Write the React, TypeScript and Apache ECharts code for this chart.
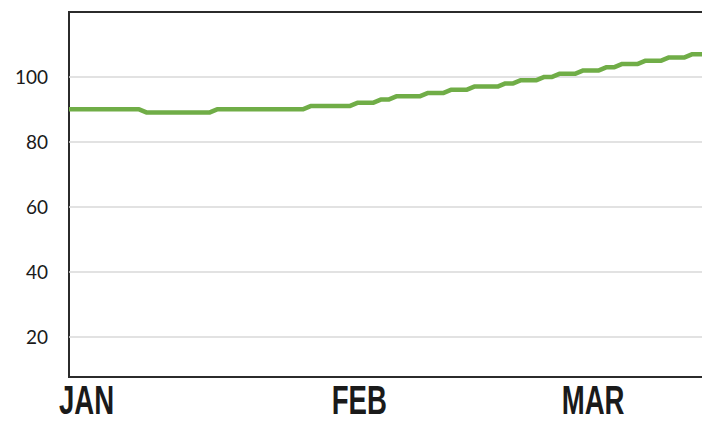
import React, { useEffect, useRef } from "react";
import * as echarts from "echarts";

// Daily index values (one point per day)
const values: number[] = [
  90, 90, 90, 90, 90, 90, 90, 90, 90, 90,
  89, 89, 89, 89, 89, 89, 89, 89, 89,
  90, 90, 90, 90, 90, 90, 90, 90, 90, 90, 90, 90,
  91, 91, 91, 91, 91, 91,
  92, 92, 92,
  93, 93,
  94, 94, 94, 94,
  95, 95, 95,
  96, 96, 96,
  97, 97, 97, 97,
  98, 98,
  99, 99, 99,
  100, 100,
  101, 101, 101,
  102, 102, 102,
  103, 103,
  104, 104, 104,
  105, 105, 105,
  106, 106, 106,
  107, 107, 107,
];

const days: string[] = values.map((_, i) => String(i + 1));

// Month captions and the day index each one is centred on
const monthLabels: string[] = ["JAN", "FEB", "MAR"];
const monthLabelAt: number[] = [2, 37, 67];

const yTicks: number[] = [20, 40, 60, 80, 100];

export default function App() {
  const ref = useRef<HTMLDivElement>(null);

  useEffect(() => {
    if (!ref.current) return;
    const chart = echarts.init(ref.current, null, { renderer: "svg" });
    chart.setOption({
      animation: false,
      grid: {
        left: 69,
        right: 2,
        top: 12,
        bottom: 47,
        show: true,
        borderColor: "#2b2b2b",
        borderWidth: 2,
        backgroundColor: "transparent",
      },
      xAxis: {
        type: "category",
        data: days,
        boundaryGap: false,
        axisLine: { show: false },
        axisTick: { show: false },
        axisLabel: { show: false },
        splitLine: { show: false },
      },
      yAxis: {
        type: "value",
        min: 7.5,
        max: 120,
        axisLine: { show: false },
        axisTick: { show: false, customValues: yTicks },
        axisLabel: {
          customValues: yTicks,
          margin: 21,
          fontFamily: "Lato",
          fontSize: 19,
          color: "#1a1a1a",
        },
        splitLine: {
          lineStyle: { color: "#d9d9d9", width: 1.5 },
        },
      },
      series: [
        {
          type: "line",
          data: values,
          showSymbol: false,
          symbol: "none",
          lineStyle: { color: "#70AD47", width: 4.5 },
        },
      ],
    });

    const labelY = 400;
    chart.setOption({
      graphic: monthLabels.map((text, i) => {
        const x = chart.convertToPixel({ xAxisIndex: 0 }, monthLabelAt[i]) as number;
        return {
          type: "text",
          x: x + 2,
          y: labelY,
          scaleX: 0.69,
          style: {
            text,
            font: "900 40px 'Liberation Sans', Roboto, sans-serif",
            lineHeight: 32,
            fill: "#1a1a1a",
            textAlign: "center",
            textVerticalAlign: "middle",
          },
        };
      }),
    });

    return () => chart.dispose();
  }, []);

  return <div ref={ref} style={{ width: 710, height: 424, margin: -8 }} />;
}
